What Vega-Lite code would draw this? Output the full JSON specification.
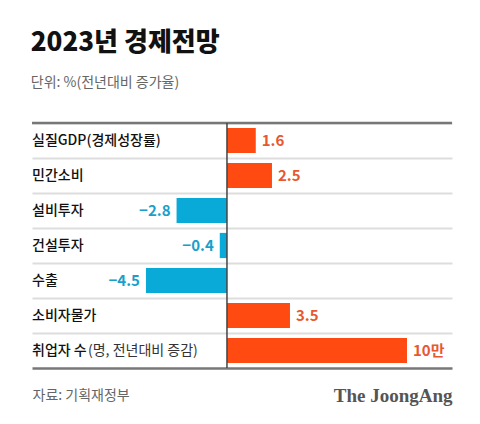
{
  "$schema": "https://vega.github.io/schema/vega-lite/v6.json",
  "width": 420,
  "height": 245,
  "padding": {"left": 30, "right": 30, "top": 29, "bottom": 10},
  "background": "white",
  "config": {"font": "Noto Sans CJK KR", "view": {"stroke": null}},
  "title": {
    "text": "2023년 경제전망",
    "subtitle": "단위: %(전년대비 증가율)",
    "anchor": "start",
    "font": "Noto Sans CJK KR",
    "fontSize": 26,
    "fontWeight": 900,
    "color": "#111111",
    "subtitleFont": "Noto Sans CJK KR",
    "subtitleFontSize": 14,
    "subtitleColor": "#666666",
    "subtitlePadding": 20,
    "offset": 32
  },
  "data": {
    "values": [
      {"cat": "실질GDP(경제성장률)", "name": "실질GDP(경제성장률)", "value": 1.6, "label": "1.6"},
      {"cat": "민간소비", "name": "민간소비", "value": 2.5, "label": "2.5"},
      {"cat": "설비투자", "name": "설비투자", "value": -2.8, "label": "−2.8"},
      {"cat": "건설투자", "name": "건설투자", "value": -0.4, "label": "−0.4"},
      {"cat": "수출", "name": "수출", "value": -4.5, "label": "−4.5"},
      {"cat": "소비자물가", "name": "소비자물가", "value": 3.5, "label": "3.5"},
      {"cat": "취업자 수(명, 전년대비 증감)", "name": "취업자 수", "suffix": "(명, 전년대비 증감)", "value": 10, "label": "10만"}
    ]
  },
  "layer": [
    {
      "mark": {"type": "bar", "height": {"band": 0.72}},
      "encoding": {
        "y": {
          "field": "cat", "type": "nominal", "sort": null,
          "scale": {"paddingInner": 0, "paddingOuter": 0},
          "axis": {"title": null, "labels": false, "ticks": false, "domain": false, "grid": true, "gridColor": "#DDDDDD", "gridWidth": 2, "bandPosition": 0}
        },
        "x": {
          "field": "value", "type": "quantitative",
          "scale": {"domain": [-10.83, 12.5], "nice": false, "zero": false},
          "axis": {
            "title": null,
            "values": [-10.83, 12.5],
            "labelExpr": "datum.value < 0 ? '자료: 기획재정부' : 'The JoongAng'",
            "domainColor": "#777777",
            "domainWidth": 2.5,
            "ticks": false,
            "tickSize": 0,
            "grid": false,
            "labelPadding": 27,
            "labelBaseline": "middle",
            "labelAlign": {"condition": {"test": "datum.value < 0", "value": "left"}, "value": "right"},
            "labelFont": {"condition": {"test": "datum.value < 0", "value": "Noto Sans CJK KR"}, "value": "Liberation Serif"},
            "labelFontSize": {"condition": {"test": "datum.value < 0", "value": 14}, "value": 19},
            "labelFontWeight": {"condition": {"test": "datum.value < 0", "value": "normal"}, "value": "bold"},
            "labelColor": {"condition": {"test": "datum.value < 0", "value": "#666666"}, "value": "#555555"},
            "labelFlush": false,
            "labelOverlap": false,
            "labelBound": false
          }
        },
        "x2": {"datum": 0},
        "color": {"condition": {"test": "datum.value < 0", "value": "#0AAAD8"}, "value": "#FF4A12"}
      }
    },
    {
      "transform": [{"filter": "datum.cat == '실질GDP(경제성장률)'"}],
      "mark": {"type": "rule", "color": "#777777", "strokeWidth": 2.5},
      "encoding": {
        "y": {"field": "cat", "type": "nominal", "sort": null, "bandPosition": 0}
      }
    },
    {
      "data": {"values": [{"v": 0}]},
      "mark": {"type": "rule", "color": "#444444", "strokeWidth": 1.5},
      "encoding": {
        "x": {"field": "v", "type": "quantitative"}
      }
    },
    {
      "transform": [{"filter": "datum.value >= 0"}],
      "mark": {"type": "text", "align": "left", "baseline": "middle", "dx": 6, "fontSize": 15, "fontWeight": "bold", "color": "#E8582F"},
      "encoding": {
        "y": {"field": "cat", "type": "nominal", "sort": null},
        "x": {"field": "value", "type": "quantitative"},
        "text": {"field": "label"}
      }
    },
    {
      "transform": [{"filter": "datum.value < 0"}],
      "mark": {"type": "text", "align": "right", "baseline": "middle", "dx": -6, "fontSize": 15, "fontWeight": "bold", "color": "#1A9FCB"},
      "encoding": {
        "y": {"field": "cat", "type": "nominal", "sort": null},
        "x": {"field": "value", "type": "quantitative"},
        "text": {"field": "label"}
      }
    },
    {
      "mark": {"type": "text", "align": "left", "baseline": "middle", "fontSize": 14, "fontWeight": 500, "color": "#111111"},
      "encoding": {
        "y": {"field": "cat", "type": "nominal", "sort": null},
        "x": {"datum": -10.83},
        "text": {"field": "name"}
      }
    },
    {
      "transform": [{"filter": "isValid(datum.suffix)"}],
      "mark": {"type": "text", "align": "left", "baseline": "middle", "dx": 56, "fontSize": 14, "fontWeight": "normal", "color": "#333333"},
      "encoding": {
        "y": {"field": "cat", "type": "nominal", "sort": null},
        "x": {"datum": -10.83},
        "text": {"field": "suffix"}
      }
    }
  ]
}
